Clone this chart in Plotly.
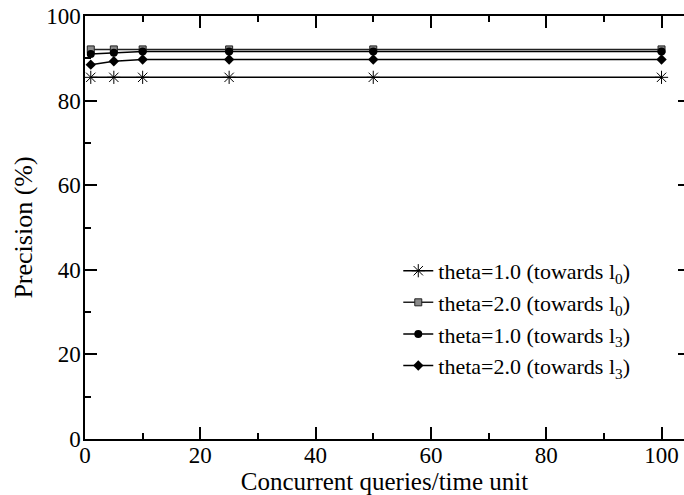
import plotly.graph_objects as go

x_vals = [1, 5, 10, 25, 50, 100]
theta1_l0 = [85.5, 85.5, 85.5, 85.5, 85.5, 85.5]
theta2_l0 = [92.1, 92.1, 92.1, 92.1, 92.1, 92.1]
theta1_l3 = [91.0, 91.3, 91.6, 91.6, 91.6, 91.6]
theta2_l3 = [88.5, 89.3, 89.7, 89.7, 89.7, 89.7]

names = [
    "theta=1.0 (towards l<sub>0</sub>)",
    "theta=2.0 (towards l<sub>0</sub>)",
    "theta=1.0 (towards l<sub>3</sub>)",
    "theta=2.0 (towards l<sub>3</sub>)",
]

FONT = "Liberation Serif, Times New Roman, serif"

fig = go.Figure()
fig.add_trace(go.Scatter(
    x=x_vals, y=theta1_l0, name=names[0], mode="lines+markers",
    line=dict(color="black", width=1.5),
    marker=dict(symbol="asterisk-open", size=11, color="black",
                line=dict(color="black", width=1)),
))
fig.add_trace(go.Scatter(
    x=x_vals, y=theta2_l0, name=names[1], mode="lines+markers",
    line=dict(color="#222", width=1.5),
    marker=dict(symbol="square", size=7, color="#8a8a8a",
                line=dict(color="#222", width=1)),
))
fig.add_trace(go.Scatter(
    x=x_vals, y=theta1_l3, name=names[2], mode="lines+markers",
    line=dict(color="black", width=1.5),
    marker=dict(symbol="circle", size=8, color="black"),
))
fig.add_trace(go.Scatter(
    x=x_vals, y=theta2_l3, name=names[3], mode="lines+markers",
    line=dict(color="black", width=1.5),
    marker=dict(symbol="diamond", size=8, color="black"),
))
# dummy trace to host the right-side tick axis
fig.add_trace(go.Scatter(x=[None], y=[None], yaxis="y2", showlegend=False,
                         hoverinfo="skip"))

fig.update_layout(
    width=684, height=495,
    margin=dict(l=85, r=0, t=15.5, b=56),
    paper_bgcolor="white", plot_bgcolor="white",
    font=dict(family=FONT, size=23, color="black"),
    showlegend=True,
    legend=dict(
        x=0.523, y=0.447, xanchor="left", yanchor="top",
        bgcolor="rgba(0,0,0,0)", borderwidth=0,
        font=dict(family=FONT, size=22, color="black"),
        tracegroupgap=0, itemwidth=30,
    ),
    xaxis=dict(
        range=[0, 103.9], tickmode="array", tickvals=[0, 20, 40, 60, 80, 100],
        ticks="inside", ticklen=12, tickwidth=1.5, tickcolor="black",
        minor=dict(tickvals=[10, 30, 50, 70, 90], ticks="inside", ticklen=6,
                   tickwidth=1.5, tickcolor="black", showgrid=False),
        showline=True, linecolor="black", linewidth=1.5, mirror="ticks",
        showgrid=False, zeroline=False, ticklabelstandoff=-5,
        title=dict(text="Concurrent queries/time unit", standoff=0,
                   font=dict(family=FONT, size=25)),
        tickfont=dict(family=FONT, size=23),
    ),
    yaxis=dict(
        range=[0, 100], tickmode="array", tickvals=[0, 20, 40, 60, 80, 100],
        ticks="inside", ticklen=12, tickwidth=1.5, tickcolor="black",
        minor=dict(tickvals=[10, 30, 50, 70, 90], ticks="inside", ticklen=6,
                   tickwidth=1.5, tickcolor="black", showgrid=False),
        showline=True, linecolor="black", linewidth=1.5, mirror=False,
        showgrid=False, zeroline=False, ticklabelstandoff=-2,
        title=dict(text="Precision (%)", standoff=6,
                   font=dict(family=FONT, size=26)),
        tickfont=dict(family=FONT, size=23),
    ),
    yaxis2=dict(
        range=[0, 100], overlaying="y", side="right", anchor="x",
        tickmode="array", tickvals=[0, 20, 40, 60, 80, 100],
        ticks="inside", ticklen=6, tickwidth=1.5, tickcolor="black",
        showticklabels=False, showline=False, showgrid=False, zeroline=False,
    ),
)

fig.write_html("out.html")
